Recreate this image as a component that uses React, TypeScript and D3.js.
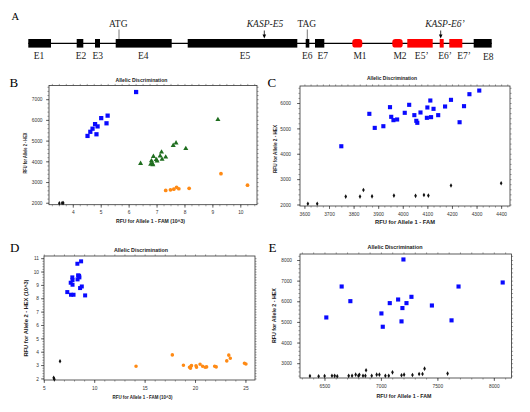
import React from 'react';
import * as d3 from 'd3';

// ---------- Panel A: gene model (positions in relative gene units) ----------
const exonNames = ['E1', 'E2', 'E3', 'E4', 'E5', 'E6', 'E7', 'M1', 'M2', 'E5\u2019', 'E6\u2019', 'E7\u2019', 'E8'];
const exonStart = [0, 48.4, 66.7, 87.4, 159.4, 277.4, 286.7, 324, 364, 379, 411.4, 421, 445.4];
const exonEnd = [22.7, 55, 71.7, 143.4, 269, 281, 296, 334, 374.4, 404.4, 415.4, 434, 463.4];
const exonKind = ['e', 'e', 'e', 'e', 'e', 'e', 'e', 'm', 'm', 'r', 'r', 'r', 'e'];
const exonLabelAt = [10.7, 52.7, 69.4, 115, 216.7, 279, 294.5, 331.7, 371.7, 393.4, 416.7, 435.7, 460];
const geneLength = 463.4;

const annotText = ['ATG', 'KASP-E5', 'TAG', 'KASP-E6\u2019'];
const annotAt = [90.7, 236, 279, 412.4];
const annotTextAt = [90, 236.7, 278.5, 416.7];
const annotKind = ['tick', 'arrow', 'tick', 'arrow'];

// ---------- Panel B (x in 10^3 RFU) ----------
const bBlue: [number, number][] = [[6.25, 7370], [5.23, 6230], [5.0, 6110], [5.19, 5860], [4.78, 5820], [4.87, 5710], [4.69, 5600], [4.61, 5450], [4.83, 5330], [4.51, 5250]];
const bGreen: [number, number][] = [[9.18, 6040], [7.68, 4910], [7.58, 4790], [8.03, 4640], [7.16, 4470], [6.87, 4260], [7.11, 4280], [7.31, 4230], [7.18, 4120], [6.97, 4110], [7.0, 4040], [6.8, 4050], [6.83, 3920], [6.77, 3880], [6.85, 3860], [6.41, 3920]];
const bOrange: [number, number][] = [[9.29, 3430], [10.24, 2870], [8.15, 2720], [7.78, 2700], [7.7, 2770], [7.6, 2680], [7.48, 2650], [7.31, 2620]];
const bBlack: [number, number][] = [[3.5, 2000], [3.6, 2010], [3.64, 2010]];
const bXTicks = [4, 5, 6, 7, 8, 9, 10];
const bYTicks = [2000, 3000, 4000, 5000, 6000, 7000];

// ---------- Panel C ----------
const cBlue: [number, number][] = [[4309, 6510], [4269, 6367], [4194, 6144], [4110, 6118], [4024, 5948], [3946, 5856], [4098, 5843], [4170, 5882], [4247, 5895], [4123, 5790], [3862, 5593], [4006, 5633], [4070, 5646], [4045, 5541], [4142, 5541], [3951, 5475], [3975, 5370], [3960, 5344], [4053, 5318], [4057, 5239], [4096, 5436], [4113, 5462], [3884, 5039], [3919, 5105], [4229, 5262], [3748, 4315]];
const cBlack: [number, number][] = [[3612, 2050], [3650, 2050], [3766, 2330], [3824, 2330], [3838, 2590], [3873, 2340], [3962, 2370], [4050, 2360], [4084, 2390], [4102, 2370], [4194, 2770], [4398, 2860]];
const cXTicks = [3600, 3700, 3800, 3900, 4000, 4100, 4200, 4300, 4400];
const cYTicks = [2000, 3000, 4000, 5000, 6000];

// ---------- Panel D (x and y in 10^3 RFU) ----------
const dBlue: [number, number][] = [[8.65, 10.8], [8.28, 10.62], [8.35, 9.75], [8.48, 9.6], [8.3, 9.45], [7.78, 9.6], [7.8, 9.4], [7.62, 9.2], [7.8, 9.05], [8.72, 8.92], [8.55, 8.8], [7.28, 8.5], [7.65, 8.3], [7.9, 8.3], [9.05, 8.25], [8.45, 9.72]];
const dOrange: [number, number][] = [[14.1, 2.95], [17.7, 3.8], [18.8, 3.02], [19.4, 2.88], [19.5, 2.8], [19.6, 3.0], [19.55, 2.95], [20.05, 2.98], [20.1, 2.88], [20.45, 3.1], [20.7, 2.95], [20.95, 2.87], [21.1, 2.9], [21.9, 2.95], [22.05, 2.9], [23.1, 3.35], [23.3, 3.78], [23.45, 3.55], [24.85, 3.18], [25.0, 3.12]];
const dBlack: [number, number][] = [[5.93, 2.08], [6.0, 1.98], [6.56, 3.32]];
const dXTicks = [5, 10, 15, 20, 25];
const dYTicks = [2, 3, 4, 5, 6, 7, 8, 9, 10, 11];

// ---------- Panel E ----------
const eBlue: [number, number][] = [[7195, 8050], [6648, 6740], [7683, 6740], [8074, 6935], [6725, 6030], [7074, 5935], [7148, 6110], [7266, 6240], [7222, 5935], [7186, 5695], [7447, 5820], [7000, 5435], [6512, 5240], [7012, 4790], [7178, 5050], [7621, 5100]];
const eBlack: [number, number][] = [[6367, 2400], [6444, 2390], [6497, 2400], [6562, 2420], [6586, 2410], [6609, 2390], [6710, 2410], [6740, 2420], [6772, 2470], [6796, 2420], [6805, 2460], [6837, 2420], [6858, 2420], [6864, 2680], [6914, 2420], [6958, 2470], [6982, 2470], [7035, 2420], [7065, 2420], [7098, 2580], [7178, 2440], [7201, 2470], [7275, 2450], [7334, 2500], [7364, 2500], [7382, 2760], [7586, 2520]];
const eXTicks = [6500, 7000, 7500, 8000];
const eYTicks = [3000, 4000, 5000, 6000, 7000, 8000];

const SANS = "'Liberation Sans', Arial, sans-serif";
const SERIF = "'Liberation Serif', 'Times New Roman', serif";

const BLUE = '#0a0aff';
const GREEN = '#1f6e1f';
const ORANGE = '#ff8a14';
const BLACK = '#111';

type Shape = 'square' | 'triangle' | 'circle' | 'diamond';
type Series = { data: [number, number][]; shape: Shape; color: string; size: number };

const symbolTypes: Record<Shape, d3.SymbolType> = {
  square: d3.symbolSquare,
  triangle: d3.symbolTriangle,
  circle: d3.symbolCircle,
  diamond: d3.symbolDiamond,
};

type Frame = { left: number; right: number; top: number; bottom: number };

function Panel(props: {
  frame: Frame;
  xDomain: [number, number];
  yDomain: [number, number];
  xTicks: number[];
  yTicks: number[];
  xMinor: number;
  yMinor: number;
  series: Series[];
  title: string;
  titlePos: [number, number, number];
  xLabel: string;
  xLabelPos: [number, number, number];
  yLabel: string;
  yLabelPos: [number, number, number];
  letter: string;
  letterPos: [number, number];
  yTickGap: number;
}) {
  const { frame: f } = props;
  const x = d3.scaleLinear().domain(props.xDomain).range([f.left, f.right]);
  const y = d3.scaleLinear().domain(props.yDomain).range([f.bottom, f.top]);
  const xm = d3.range(Math.ceil(props.xDomain[0] / props.xMinor) * props.xMinor, props.xDomain[1], props.xMinor);
  const ym = d3.range(Math.ceil(props.yDomain[0] / props.yMinor) * props.yMinor, props.yDomain[1], props.yMinor);
  const tickColor = '#444';
  return (
    <g>
      <text x={props.letterPos[0]} y={props.letterPos[1]} fontFamily={SERIF} fontSize={13} fill="#000">
        {props.letter}
      </text>
      <text
        x={props.titlePos[0]}
        y={props.titlePos[1]}
        textAnchor="middle"
        fontFamily={SANS}
        fontWeight="bold"
        fontSize={5}
        textLength={props.titlePos[2]}
        lengthAdjust="spacingAndGlyphs"
        fill="#222"
      >
        {props.title}
      </text>
      {/* minor ticks on all four sides */}
      {xm.map((v, i) => (
        <g key={'xm' + i}>
          <line x1={x(v)} x2={x(v)} y1={f.bottom} y2={f.bottom + 1.6} stroke={tickColor} strokeWidth={0.5} />
          <line x1={x(v)} x2={x(v)} y1={f.top} y2={f.top - 1.6} stroke={tickColor} strokeWidth={0.5} />
        </g>
      ))}
      {ym.map((v, i) => (
        <g key={'ym' + i}>
          <line x1={f.left} x2={f.left - 1.6} y1={y(v)} y2={y(v)} stroke={tickColor} strokeWidth={0.5} />
          <line x1={f.right} x2={f.right + 1.6} y1={y(v)} y2={y(v)} stroke={tickColor} strokeWidth={0.5} />
        </g>
      ))}
      <rect x={f.left} y={f.top} width={f.right - f.left} height={f.bottom - f.top} fill="none" stroke="#333" strokeWidth={0.8} />
      {props.xTicks.map((v) => (
        <g key={'xt' + v}>
          <line x1={x(v)} x2={x(v)} y1={f.bottom} y2={f.bottom + 3} stroke="#333" strokeWidth={0.7} />
          <text x={x(v)} y={f.bottom + 9.5} textAnchor="middle" fontFamily={SANS} fontSize={4.8} fill="#333">
            {v}
          </text>
        </g>
      ))}
      {props.yTicks.map((v) => (
        <g key={'yt' + v}>
          <line x1={f.left} x2={f.left - 3} y1={y(v)} y2={y(v)} stroke="#333" strokeWidth={0.7} />
          <text
            x={f.left - props.yTickGap}
            y={y(v) + 1.7}
            textAnchor="end"
            fontFamily={SANS}
            fontSize={4.8}
            fill="#333"
          >
            {v}
          </text>
        </g>
      ))}
      <text
        x={props.xLabelPos[0]}
        y={props.xLabelPos[1]}
        textAnchor="middle"
        fontFamily={SANS}
        fontWeight="bold"
        fontSize={5}
        textLength={props.xLabelPos[2]}
        lengthAdjust="spacingAndGlyphs"
        fill="#222"
      >
        {props.xLabel}
      </text>
      <text
        transform={`translate(${props.yLabelPos[0]},${props.yLabelPos[1]}) rotate(-90)`}
        textAnchor="middle"
        fontFamily={SANS}
        fontWeight="bold"
        fontSize={5}
        textLength={props.yLabelPos[2]}
        lengthAdjust="spacingAndGlyphs"
        fill="#222"
      >
        {props.yLabel}
      </text>
      {props.series.map((s, si) => {
        const path = d3.symbol().type(symbolTypes[s.shape]).size(s.size)() || '';
        return (
          <g key={'s' + si}>
            {s.data.map((d, i) => (
              <path key={i} d={path} transform={`translate(${x(d[0])},${y(d[1])})`} fill={s.color} />
            ))}
          </g>
        );
      })}
    </g>
  );
}

function GeneModel() {
  const gx = d3.scaleLinear().domain([0, geneLength]).range([28.3, 491.7]);
  const lineY = 43.3;
  const boxTop = 39;
  const boxH = 8.6;
  return (
    <g>
      <text x={11.5} y={19.5} fontFamily={SERIF} fontSize={10.5} fill="#000">
        A
      </text>
      <line x1={gx(0)} x2={gx(geneLength)} y1={lineY} y2={lineY} stroke="#000" strokeWidth={1.2} />
      {exonNames.map((n, i) => {
        const x0 = gx(exonStart[i]);
        const w = gx(exonEnd[i]) - x0;
        const red = exonKind[i] !== 'e';
        return (
          <g key={n}>
            <rect
              x={x0}
              y={boxTop}
              width={w}
              height={boxH}
              rx={exonKind[i] === 'm' ? 3.2 : 0}
              fill={red ? '#ff0000' : '#000'}
            />
            <text
              x={gx(exonLabelAt[i])}
              y={n === 'E8' ? 59.5 : 58.5}
              textAnchor="middle"
              fontFamily={SERIF}
              fontSize={9.5}
              fill="#222"
            >
              {n}
            </text>
          </g>
        );
      })}
      {annotText.map((t, i) => {
        const ax = gx(annotAt[i]);
        const isArrow = annotKind[i] === 'arrow';
        return (
          <g key={t}>
            <text
              x={gx(annotTextAt[i])}
              y={26.5}
              textAnchor="middle"
              fontFamily={SERIF}
              fontStyle={isArrow ? 'italic' : 'normal'}
              fontSize={9.5}
              fill="#222"
            >
              {t}
            </text>
            {isArrow ? (
              <g>
                <line x1={ax} x2={ax} y1={30.5} y2={35} stroke="#000" strokeWidth={0.8} />
                <path d={`M${ax - 1.8},${34.5} L${ax + 1.8},${34.5} L${ax},${38.6} Z`} fill="#000" />
              </g>
            ) : (
              <line x1={ax} x2={ax} y1={29.5} y2={39} stroke="#555" strokeWidth={0.8} />
            )}
          </g>
        );
      })}
    </g>
  );
}

export default function App() {
  const title = 'Allelic Discrimination';
  return (
    <svg width={530} height={412} style={{ position: 'absolute', left: 0, top: 0, background: '#fff' }}>
      <rect width={530} height={412} fill="#fff" />
      <GeneModel />
      <Panel
        frame={{ left: 49, right: 257, top: 85.5, bottom: 204.7 }}
        xDomain={[3.13, 10.58]}
        yDomain={[1930, 7685]}
        xTicks={bXTicks}
        yTicks={bYTicks}
        xMinor={0.25}
        yMinor={200}
        series={[
          { data: bBlue, shape: 'square', color: BLUE, size: 18 },
          { data: bGreen, shape: 'triangle', color: GREEN, size: 11 },
          { data: bOrange, shape: 'circle', color: ORANGE, size: 11 },
          { data: bBlack, shape: 'diamond', color: BLACK, size: 6 },
        ]}
        title={title}
        titlePos={[141.5, 82, 52]}
        xLabel={'RFU for Allele 1 - FAM (10^3)'}
        xLabelPos={[150.5, 223, 69]}
        yLabel={'RFU for Allele 2 - HEX'}
        yLabelPos={[26.5, 153, 41]}
        letter="B"
        letterPos={[9.5, 87]}
        yTickGap={6.5}
      />
      <Panel
        frame={{ left: 300, right: 510, top: 86, bottom: 206 }}
        xDomain={[3580, 4434]}
        yDomain={[1960, 6690]}
        xTicks={cXTicks}
        yTicks={cYTicks}
        xMinor={25}
        yMinor={200}
        series={[
          { data: cBlue, shape: 'square', color: BLUE, size: 17 },
          { data: cBlack, shape: 'diamond', color: BLACK, size: 6 },
        ]}
        title={title}
        titlePos={[392, 80, 50]}
        xLabel={'RFU for Allele 1 - FAM'}
        xLabelPos={[405, 223.5, 60]}
        yLabel={'RFU for Allele 2 - HEX'}
        yLabelPos={[276.5, 149, 48]}
        letter="C"
        letterPos={[267.5, 87]}
        yTickGap={9}
      />
      <Panel
        frame={{ left: 44, right: 255, top: 256, bottom: 380 }}
        xDomain={[4.97, 25.9]}
        yDomain={[1.92, 11.2]}
        xTicks={dXTicks}
        yTicks={dYTicks}
        xMinor={1}
        yMinor={0.2}
        series={[
          { data: dBlue, shape: 'square', color: BLUE, size: 16 },
          { data: dOrange, shape: 'circle', color: ORANGE, size: 10 },
          { data: dBlack, shape: 'diamond', color: BLACK, size: 6 },
        ]}
        title={title}
        titlePos={[141, 251.5, 54]}
        xLabel={'RFU for Allele 1 - FAM (10^3)'}
        xLabelPos={[142.5, 399, 60]}
        yLabel={'RFU for Allele 2 - HEX (10^3)'}
        yLabelPos={[27.5, 318, 77]}
        letter="D"
        letterPos={[10, 252]}
        yTickGap={5}
      />
      <Panel
        frame={{ left: 300, right: 511.5, top: 254, bottom: 378 }}
        xDomain={[6279, 8152]}
        yDomain={[2307, 8315]}
        xTicks={eXTicks}
        yTicks={eYTicks}
        xMinor={100}
        yMinor={200}
        series={[
          { data: eBlue, shape: 'square', color: BLUE, size: 17 },
          { data: eBlack, shape: 'diamond', color: BLACK, size: 6 },
        ]}
        title={title}
        titlePos={[395, 249, 55]}
        xLabel={'RFU for Allele 1 - FAM'}
        xLabelPos={[404, 398, 55]}
        yLabel={'RFU for Allele 2 - HEX'}
        yLabelPos={[276, 315.6, 55]}
        letter="E"
        letterPos={[268.5, 252]}
        yTickGap={8}
      />
    </svg>
  );
}
